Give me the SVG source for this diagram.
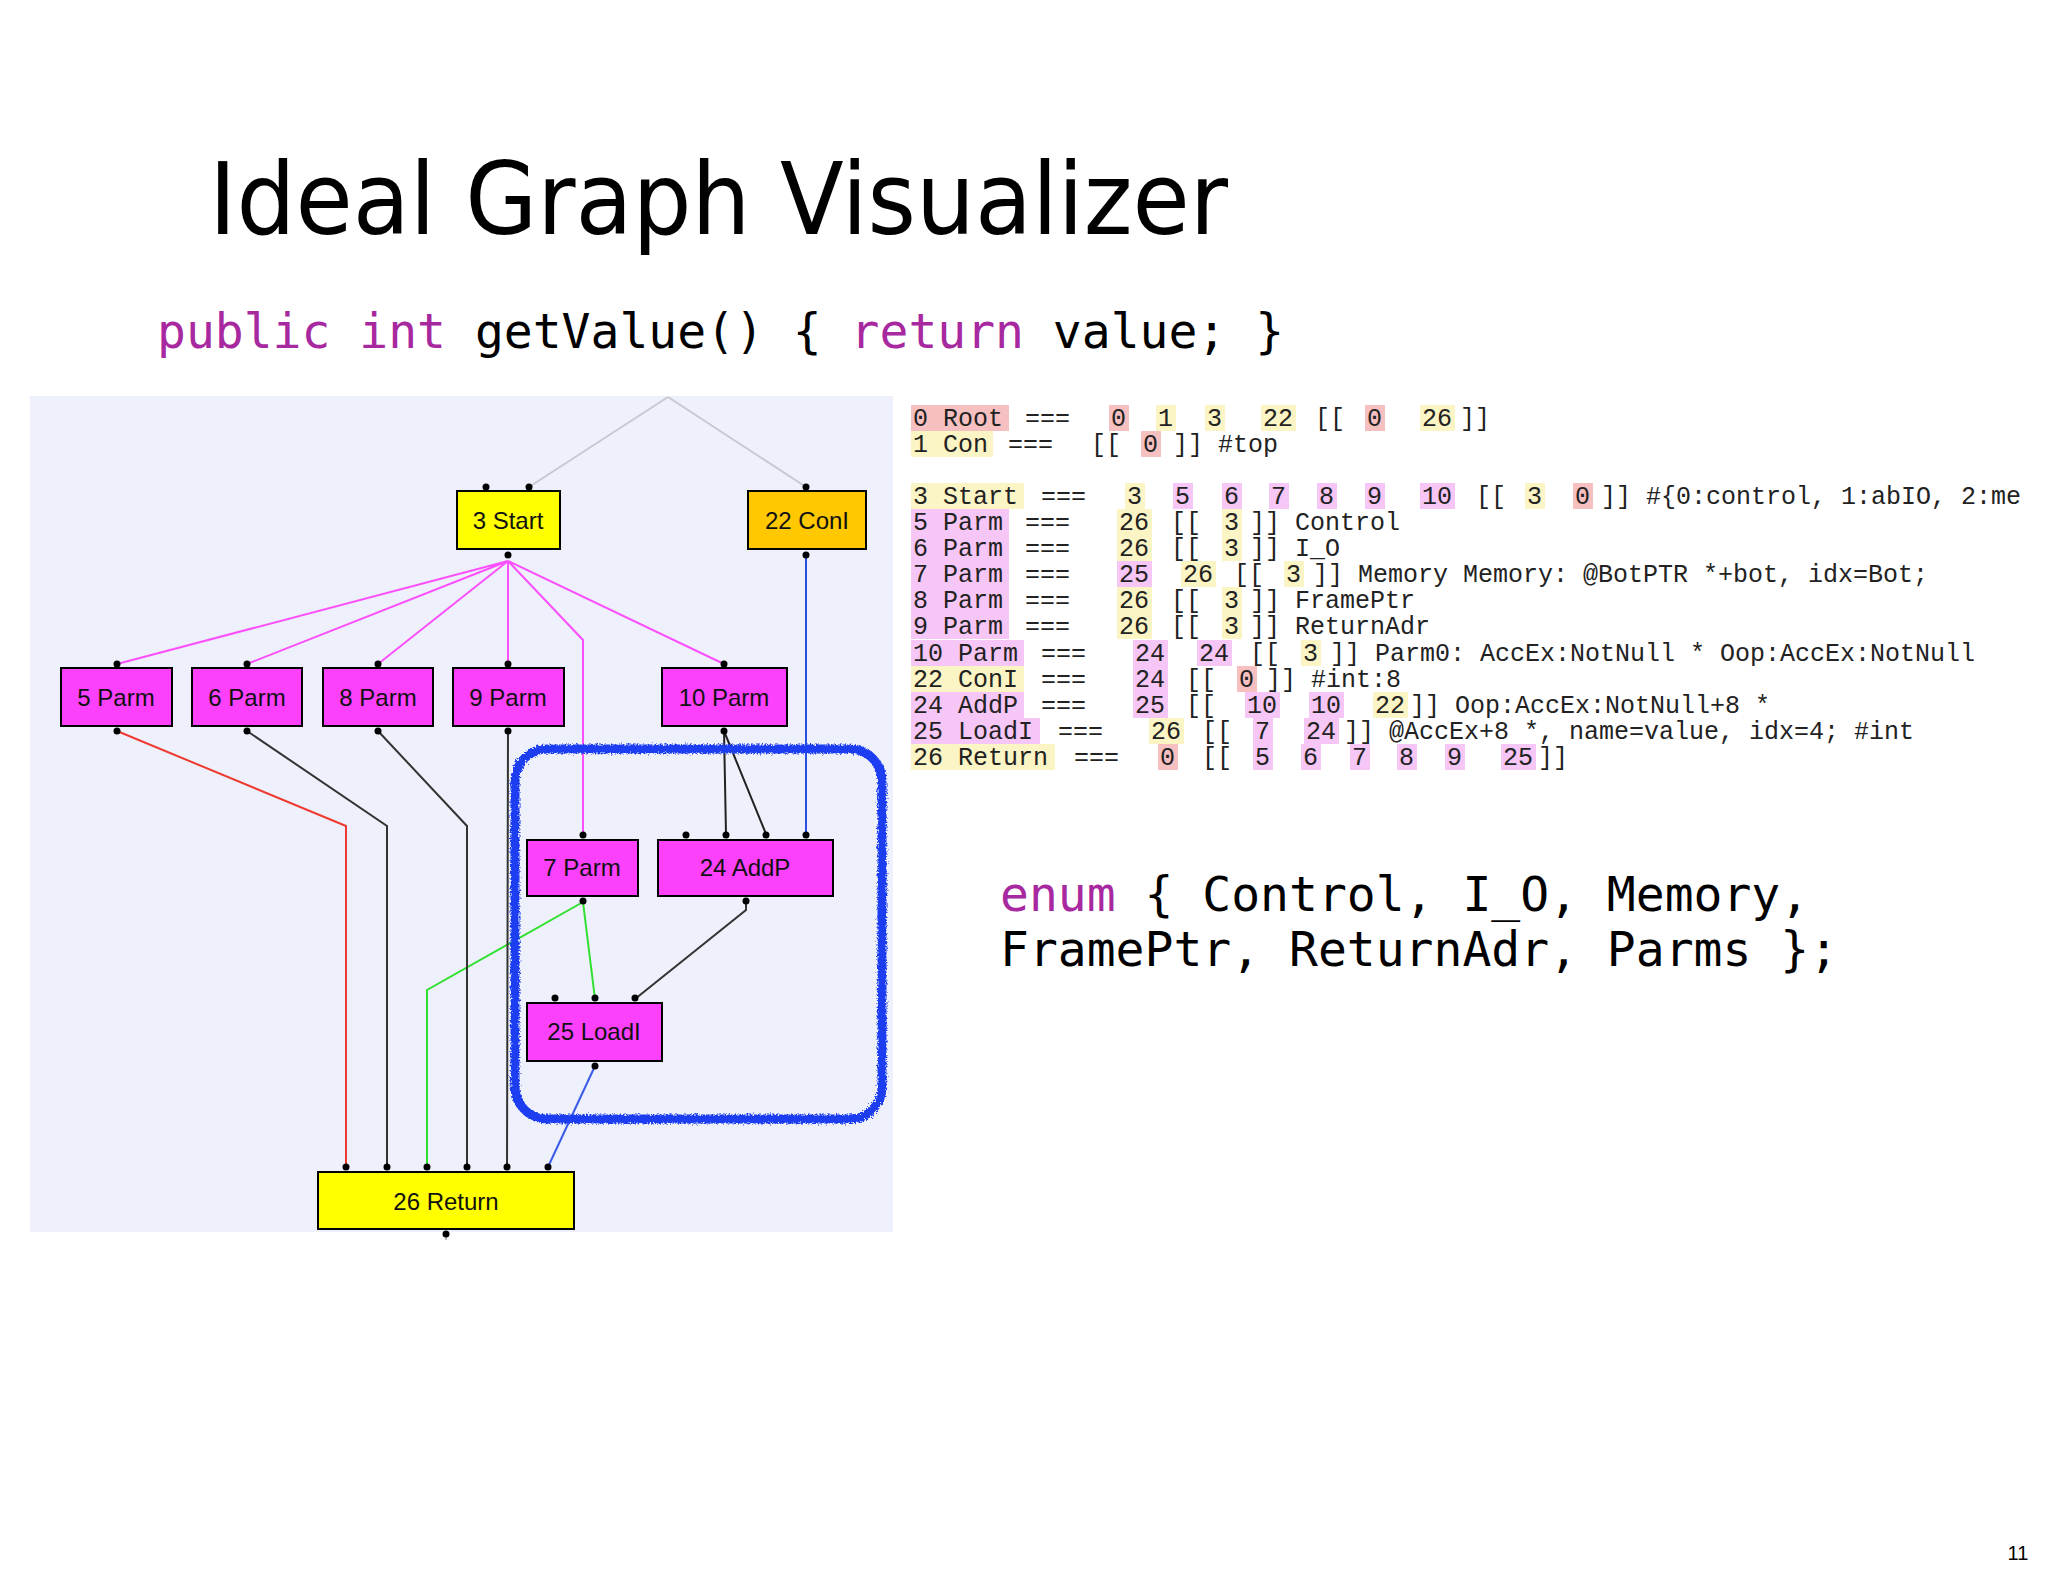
<svg xmlns="http://www.w3.org/2000/svg" width="2048" height="1576" viewBox="0 0 2048 1576">
<style>
.m{font-family:"Liberation Mono",monospace;font-size:25px;fill:#222}
.hr{fill:#f6c0c0}.hy{fill:#fbf4c4}.hp{fill:#f6c6f6}
.n{stroke:#000;stroke-width:2}
.mag{fill:#fc40fc}.yel{fill:#ffff00}.org{fill:#ffc800}
.lbl{font-family:"Liberation Sans",Arial,sans-serif;font-size:24px;fill:#111;text-anchor:middle}
.code{font-family:"DejaVu Sans Mono",monospace;font-size:48px;fill:#000}
.kw{fill:#a8289f}
.e{fill:none;stroke-width:2}
</style>
<defs>
<filter id="rough" x="-10%" y="-10%" width="120%" height="120%">
<feTurbulence type="fractalNoise" baseFrequency="0.6" numOctaves="2" result="t"/>
<feDisplacementMap in="SourceGraphic" in2="t" scale="6"/>
</filter>
</defs>
<rect width="2048" height="1576" fill="#fff"/>
<text x="209" y="234" font-family="DejaVu Sans,sans-serif" font-size="100" textLength="1019" lengthAdjust="spacingAndGlyphs">Ideal Graph Visualizer</text>
<text class="code" x="157" y="348"><tspan class="kw">public</tspan> <tspan class="kw">int</tspan> getValue() { <tspan class="kw">return</tspan> value; }</text>
<text class="code" x="1000" y="911"><tspan class="kw">enum</tspan> { Control, I_O, Memory,</text>
<text class="code" x="1000" y="966">FramePtr, ReturnAdr, Parms };</text>
<text x="2018" y="1560" font-family="Liberation Sans,sans-serif" font-size="20" text-anchor="middle">11</text>

<!-- graph panel -->
<rect x="30" y="396" width="863" height="836" fill="#eef0fc"/>
<g id="connectors">
<path class="e" stroke="#c8c8d0" d="M668 397 L529 487 M668 397 L806 487 M446 1234 L446 1232"/>
<line x1="446" y1="1234" x2="446" y2="1232" stroke="#bbb"/>
<line x1="446" y1="1234" x2="446" y2="1240" stroke="#bbb" stroke-width="2"/>
<g stroke="#fc50fc" class="e">
<path d="M508 561 L117 664 M508 561 L247 664 M508 561 L378 664 M508 561 L508 664 M508 561 L724 664 M508 561 L583 640 L583 834"/>
</g>
<path class="e" stroke="#2a4ee8" d="M806 555 L806 834"/>
<path class="e" stroke="#222" d="M724 731 L726 834 M724 731 L766 834"/>
<path class="e" stroke="#333" d="M746 902 L746 910 L635 999"/>
<path class="e" stroke="#30e030" d="M583 902 L595 999 M583 902 L427 990 L427 1167"/>
<path class="e" stroke="#ee3a30" d="M117 731 L346 826 L346 1167"/>
<path class="e" stroke="#333" d="M247 731 L387 826 L387 1167 M378 731 L467 826 L467 1167 M508 731 L507 1167"/>
<path class="e" stroke="#3a5ae8" d="M595 1066 L548 1167"/>
</g>
<g id="n3"><rect class="n yel" x="457" y="491" width="103" height="58"/><text class="lbl" x="508" y="529">3 Start</text></g>
<g id="n22"><rect class="n org" x="748" y="491" width="118" height="58"/><text class="lbl" x="807" y="529">22 ConI</text></g>
<g id="n5"><rect class="n mag" x="61" y="668" width="111" height="58"/><text class="lbl" x="116" y="686" dy="20">5 Parm</text></g>
<g id="n6"><rect class="n mag" x="192" y="668" width="110" height="58"/><text class="lbl" x="247" y="706">6 Parm</text></g>
<g id="n8"><rect class="n mag" x="323" y="668" width="110" height="58"/><text class="lbl" x="378" y="706">8 Parm</text></g>
<g id="n9"><rect class="n mag" x="453" y="668" width="111" height="58"/><text class="lbl" x="508" y="706">9 Parm</text></g>
<g id="n10"><rect class="n mag" x="662" y="668" width="125" height="58"/><text class="lbl" x="724" y="706">10 Parm</text></g>
<g id="n7"><rect class="n mag" x="527" y="840" width="111" height="56"/><text class="lbl" x="582" y="846" dy="30">7 Parm</text></g>
<g id="n24"><rect class="n mag" x="658" y="840" width="175" height="56"/><text class="lbl" x="745" y="876">24 AddP</text></g>
<g id="n25"><rect class="n mag" x="527" y="1003" width="135" height="58"/><text class="lbl" x="594" y="1040">25 LoadI</text></g>
<g id="n26"><rect class="n yel" x="318" y="1172" width="256" height="57"/><text class="lbl" x="446" y="1210">26 Return</text></g>
<g id="ports" fill="#000">
<circle cx="486" cy="487" r="3.5"/><circle cx="529" cy="487" r="3.5"/><circle cx="806" cy="487" r="3.5"/>
<circle cx="508" cy="555" r="3.5"/><circle cx="806" cy="555" r="3.5"/>
<circle cx="117" cy="664" r="3.5"/><circle cx="247" cy="664" r="3.5"/><circle cx="378" cy="664" r="3.5"/><circle cx="508" cy="664" r="3.5"/><circle cx="724" cy="664" r="3.5"/>
<circle cx="117" cy="731" r="3.5"/><circle cx="247" cy="731" r="3.5"/><circle cx="378" cy="731" r="3.5"/><circle cx="508" cy="731" r="3.5"/><circle cx="724" cy="731" r="3.5"/>
<circle cx="583" cy="835" r="3.5"/><circle cx="686" cy="835" r="3.5"/><circle cx="726" cy="835" r="3.5"/><circle cx="766" cy="835" r="3.5"/><circle cx="806" cy="835" r="3.5"/>
<circle cx="583" cy="901" r="3.5"/><circle cx="746" cy="901" r="3.5"/>
<circle cx="555" cy="998" r="3.5"/><circle cx="595" cy="998" r="3.5"/><circle cx="635" cy="998" r="3.5"/>
<circle cx="595" cy="1066" r="3.5"/>
<circle cx="346" cy="1167" r="3.5"/><circle cx="387" cy="1167" r="3.5"/><circle cx="427" cy="1167" r="3.5"/><circle cx="467" cy="1167" r="3.5"/><circle cx="507" cy="1167" r="3.5"/><circle cx="548" cy="1167" r="3.5"/>
<circle cx="446" cy="1234" r="3.5"/>
</g>
<rect x="515" y="749" width="367" height="370" rx="32" fill="none" stroke="#1a3cf0" stroke-width="9" filter="url(#rough)"/>

<!-- text dump -->
<g id="dump">
<!-- highlights -->
<rect class="hr" x="911" y="405" width="98" height="26"/>
<rect class="hr" x="1109" y="405" width="20" height="26"/><rect class="hy" x="1156" y="405" width="20" height="26"/><rect class="hy" x="1205" y="405" width="20" height="26"/><rect class="hy" x="1261" y="405" width="35" height="26"/><rect class="hr" x="1365" y="405" width="20" height="26"/><rect class="hy" x="1420" y="405" width="35" height="26"/>
<rect class="hy" x="911" y="431" width="82" height="26"/><rect class="hr" x="1141" y="431" width="20" height="26"/>
<rect class="hy" x="911" y="483" width="113" height="26"/>
<rect class="hy" x="1125" y="483" width="20" height="26"/><rect class="hp" x="1173" y="483" width="20" height="26"/><rect class="hp" x="1222" y="483" width="20" height="26"/><rect class="hp" x="1269" y="483" width="20" height="26"/><rect class="hp" x="1317" y="483" width="20" height="26"/><rect class="hp" x="1365" y="483" width="20" height="26"/><rect class="hp" x="1420" y="483" width="35" height="26"/><rect class="hy" x="1525" y="483" width="20" height="26"/><rect class="hr" x="1573" y="483" width="20" height="26"/>
<rect class="hp" x="911" y="509" width="98" height="130"/>
<rect class="hy" x="1117" y="509" width="35" height="26"/><rect class="hy" x="1222" y="509" width="20" height="26"/>
<rect class="hy" x="1117" y="535" width="35" height="26"/><rect class="hy" x="1222" y="535" width="20" height="26"/>
<rect class="hp" x="1117" y="561" width="35" height="26"/><rect class="hy" x="1181" y="561" width="35" height="26"/><rect class="hy" x="1284" y="561" width="20" height="26"/>
<rect class="hy" x="1117" y="587" width="35" height="26"/><rect class="hy" x="1222" y="587" width="20" height="26"/>
<rect class="hy" x="1117" y="613" width="35" height="26"/><rect class="hy" x="1222" y="613" width="20" height="26"/>
<rect class="hp" x="911" y="640" width="113" height="26"/><rect class="hp" x="1133" y="640" width="35" height="26"/><rect class="hp" x="1197" y="640" width="35" height="26"/><rect class="hy" x="1301" y="640" width="20" height="26"/>
<rect class="hy" x="911" y="666" width="113" height="26"/><rect class="hp" x="1133" y="666" width="35" height="26"/><rect class="hr" x="1237" y="666" width="20" height="26"/>
<rect class="hp" x="911" y="692" width="113" height="26"/><rect class="hp" x="1133" y="692" width="35" height="26"/><rect class="hp" x="1245" y="692" width="35" height="26"/><rect class="hp" x="1309" y="692" width="35" height="26"/><rect class="hy" x="1373" y="692" width="35" height="26"/>
<rect class="hp" x="911" y="718" width="129" height="26"/><rect class="hy" x="1149" y="718" width="35" height="26"/><rect class="hp" x="1253" y="718" width="20" height="26"/><rect class="hp" x="1304" y="718" width="35" height="26"/>
<rect class="hy" x="911" y="744" width="144" height="26"/><rect class="hr" x="1158" y="744" width="20" height="26"/><rect class="hp" x="1253" y="744" width="20" height="26"/><rect class="hp" x="1301" y="744" width="20" height="26"/><rect class="hp" x="1350" y="744" width="20" height="26"/><rect class="hp" x="1397" y="744" width="20" height="26"/><rect class="hp" x="1445" y="744" width="20" height="26"/><rect class="hp" x="1501" y="744" width="35" height="26"/>
<!-- texts -->
<text class="m" y="426"><tspan x="913">0 Root</tspan><tspan x="1025">===</tspan><tspan x="1111">0</tspan><tspan x="1158">1</tspan><tspan x="1207">3</tspan><tspan x="1263">22</tspan><tspan x="1315">[[</tspan><tspan x="1367">0</tspan><tspan x="1422">26</tspan><tspan x="1460">]]</tspan></text>
<text class="m" y="452"><tspan x="913">1 Con</tspan><tspan x="1008">===</tspan><tspan x="1091">[[</tspan><tspan x="1143">0</tspan><tspan x="1173">]] #top</tspan></text>
<text class="m" y="504"><tspan x="913">3 Start</tspan><tspan x="1041">===</tspan><tspan x="1127">3</tspan><tspan x="1175">5</tspan><tspan x="1224">6</tspan><tspan x="1271">7</tspan><tspan x="1319">8</tspan><tspan x="1367">9</tspan><tspan x="1422">10</tspan><tspan x="1476">[[</tspan><tspan x="1527">3</tspan><tspan x="1575">0</tspan><tspan x="1601">]] #{0:control, 1:abIO, 2:me</tspan></text>
<text class="m" y="530"><tspan x="913">5 Parm</tspan><tspan x="1025">===</tspan><tspan x="1119">26</tspan><tspan x="1171">[[</tspan><tspan x="1224">3</tspan><tspan x="1250">]] Control</tspan></text>
<text class="m" y="556"><tspan x="913">6 Parm</tspan><tspan x="1025">===</tspan><tspan x="1119">26</tspan><tspan x="1171">[[</tspan><tspan x="1224">3</tspan><tspan x="1250">]] I_O</tspan></text>
<text class="m" y="582"><tspan x="913">7 Parm</tspan><tspan x="1025">===</tspan><tspan x="1119">25</tspan><tspan x="1183">26</tspan><tspan x="1234">[[</tspan><tspan x="1286">3</tspan><tspan x="1313">]] Memory  Memory: @BotPTR *+bot, idx=Bot;</tspan></text>
<text class="m" y="608"><tspan x="913">8 Parm</tspan><tspan x="1025">===</tspan><tspan x="1119">26</tspan><tspan x="1171">[[</tspan><tspan x="1224">3</tspan><tspan x="1250">]] FramePtr</tspan></text>
<text class="m" y="634"><tspan x="913">9 Parm</tspan><tspan x="1025">===</tspan><tspan x="1119">26</tspan><tspan x="1171">[[</tspan><tspan x="1224">3</tspan><tspan x="1250">]] ReturnAdr</tspan></text>
<text class="m" y="661"><tspan x="913">10 Parm</tspan><tspan x="1041">===</tspan><tspan x="1135">24</tspan><tspan x="1199">24</tspan><tspan x="1250">[[</tspan><tspan x="1303">3</tspan><tspan x="1330">]] Parm0: AccEx:NotNull *  Oop:AccEx:NotNull</tspan></text>
<text class="m" y="687"><tspan x="913">22 ConI</tspan><tspan x="1041">===</tspan><tspan x="1135">24</tspan><tspan x="1186">[[</tspan><tspan x="1239">0</tspan><tspan x="1266">]] #int:8</tspan></text>
<text class="m" y="713"><tspan x="913">24 AddP</tspan><tspan x="1041">===</tspan><tspan x="1135">25</tspan><tspan x="1186">[[</tspan><tspan x="1247">10</tspan><tspan x="1311">10</tspan><tspan x="1375">22</tspan><tspan x="1410">]] Oop:AccEx:NotNull+8 *</tspan></text>
<text class="m" y="739"><tspan x="913">25 LoadI</tspan><tspan x="1058">===</tspan><tspan x="1151">26</tspan><tspan x="1202">[[</tspan><tspan x="1255">7</tspan><tspan x="1306">24</tspan><tspan x="1344">]] @AccEx+8 *, name=value, idx=4; #int</tspan></text>
<text class="m" y="765"><tspan x="913">26 Return</tspan><tspan x="1074">===</tspan><tspan x="1160">0</tspan><tspan x="1202">[[</tspan><tspan x="1255">5</tspan><tspan x="1303">6</tspan><tspan x="1352">7</tspan><tspan x="1399">8</tspan><tspan x="1447">9</tspan><tspan x="1503">25</tspan><tspan x="1538">]]</tspan></text>
</g>
</svg>
